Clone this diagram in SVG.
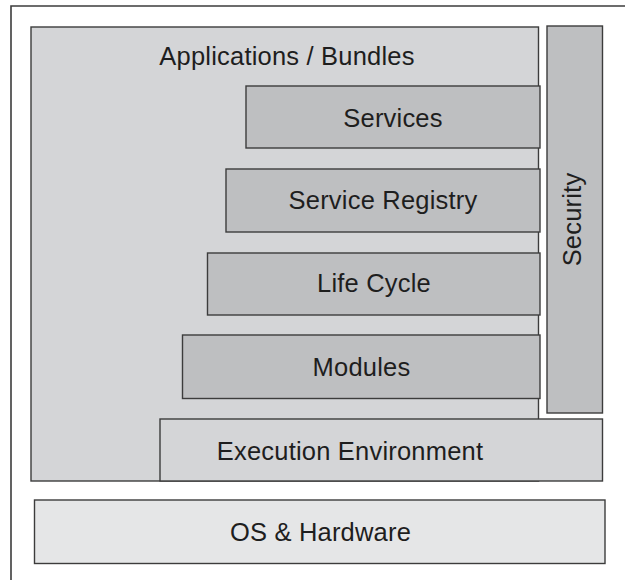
<svg xmlns="http://www.w3.org/2000/svg" width="625" height="580" viewBox="0 0 625 580">
  <style>
    .box { stroke: #3c3c3c; stroke-width: 1.4; }
    .outer { fill: #d4d5d7; }
    .layer { fill: #bebfc1; }
    .base { fill: #e5e6e7; }
    .label { font-family: "Liberation Sans", Arial, sans-serif; font-size: 25.5px; letter-spacing: 0.2px; fill: #1e1e1e; text-anchor: middle; }
    .frame { fill: none; stroke: #3c3c3c; stroke-width: 1.6; }
  </style>

  <rect width="625" height="580" fill="#ffffff"/>

  <!-- page frame: top and left edges only -->
  <path class="frame" d="M11,580 V6 H625"/>

  <g id="applications">
    <rect class="box outer" x="31" y="27" width="507.5" height="454"/>
    <text class="label" x="287" y="65">Applications / Bundles</text>
  </g>

  <g id="services">
    <rect class="box layer" x="246" y="86" width="294" height="62"/>
    <text class="label" x="393" y="127">Services</text>
  </g>

  <g id="service-registry">
    <rect class="box layer" x="226" y="169" width="314" height="63"/>
    <text class="label" x="383" y="209">Service Registry</text>
  </g>

  <g id="life-cycle">
    <rect class="box layer" x="207.5" y="253" width="332.5" height="62"/>
    <text class="label" x="374" y="292">Life Cycle</text>
  </g>

  <g id="modules">
    <rect class="box layer" x="182.5" y="335" width="357.5" height="63.5"/>
    <text class="label" x="361.5" y="376">Modules</text>
  </g>

  <g id="security">
    <rect class="box layer" x="547" y="26" width="55.5" height="387"/>
    <text class="label" transform="translate(581,219.5) rotate(-90)">Security</text>
  </g>

  <g id="execution-environment">
    <rect class="box outer" x="160" y="419" width="442.5" height="62"/>
    <text class="label" x="350" y="460">Execution Environment</text>
  </g>

  <g id="os-hardware">
    <rect class="box base" x="34.5" y="500" width="570.5" height="63.5"/>
    <text class="label" x="320.5" y="541">OS &amp; Hardware</text>
  </g>
</svg>
